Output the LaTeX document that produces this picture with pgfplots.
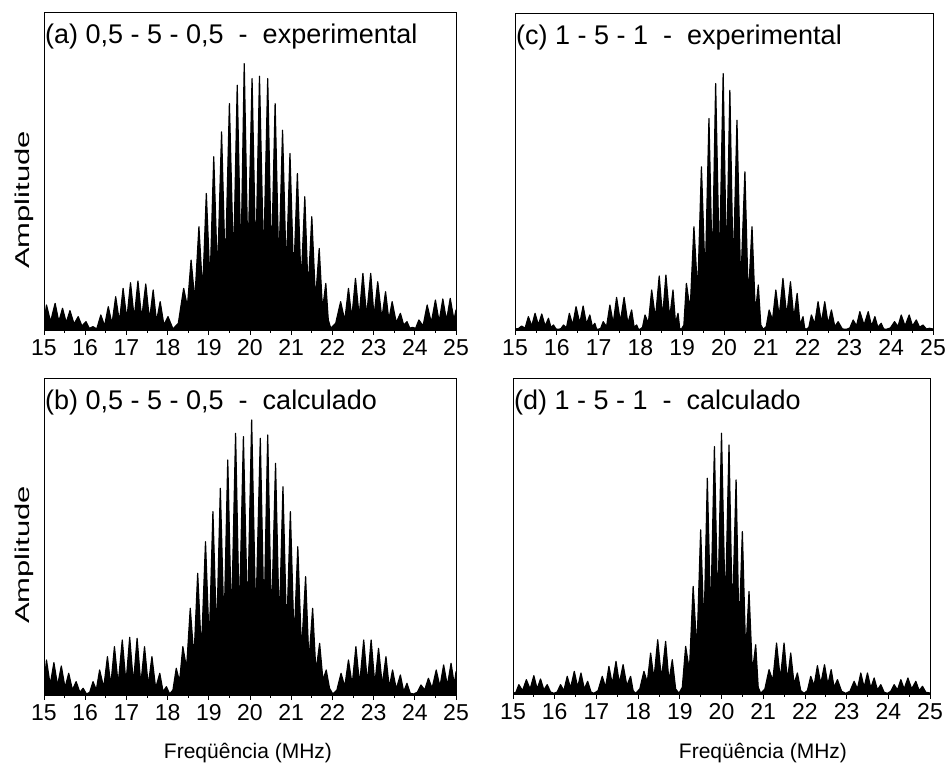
\documentclass[border=0pt]{standalone}
\usepackage{fontspec}
\setmainfont{Liberation Sans}
\usepackage{graphicx}
\usepackage{pgfplots}
\pgfplotsset{compat=1.18}

% (a) 0,5-5-0,5 experimental
\pgfplotstableread{
x y
15.00 20
15.06 75
15.16 25
15.27 80
15.36 25
15.45 65
15.54 22
15.63 58
15.73 18
15.83 40
15.92 12
16.02 25
16.10 5
16.19 10
16.28 3
16.38 45
16.47 12
16.56 70
16.65 18
16.74 100
16.83 25
16.92 125
17.01 32
17.10 142
17.19 35
17.28 147
17.37 35
17.47 138
17.56 30
17.65 120
17.73 25
17.82 85
17.91 15
18.01 40
18.13 3
18.26 20
18.39 125
18.48 70
18.57 210
18.66 90
18.76 310
18.85 115
18.94 410
19.03 140
19.12 520
19.21 160
19.31 595
19.40 175
19.50 680
19.60 190
19.69 735
19.78 198
19.86 800
19.95 200
20.05 755
20.14 200
20.23 762
20.33 200
20.43 755
20.52 195
20.61 680
20.70 185
20.79 600
20.88 170
20.97 530
21.06 155
21.15 470
21.24 135
21.33 400
21.41 115
21.50 340
21.59 90
21.68 245
21.76 60
21.84 140
21.90 30
21.96 5
22.08 20
22.20 85
22.30 28
22.39 125
22.47 35
22.56 155
22.65 40
22.74 170
22.83 42
22.93 170
23.01 40
23.10 145
23.20 35
23.29 115
23.37 30
23.45 85
23.55 22
23.65 50
23.73 15
23.81 25
23.88 5
23.94 8
24.02 5
24.10 30
24.20 12
24.30 75
24.40 22
24.50 90
24.59 25
24.68 93
24.77 28
24.86 95
24.95 30
25.00 60
}\dataA

% (b) 0,5-5-0,5 calculado
\pgfplotstableread{
x y
15.00 30
15.06 105
15.15 30
15.24 97
15.33 28
15.42 87
15.51 22
15.60 65
15.69 15
15.78 40
15.87 8
15.95 20
16.03 3
16.11 8
16.19 40
16.27 15
16.35 75
16.45 22
16.54 115
16.62 28
16.71 145
16.80 32
16.90 165
16.99 35
17.08 173
17.17 35
17.26 170
17.35 32
17.44 145
17.53 28
17.62 115
17.71 20
17.81 65
17.89 10
17.97 25
18.05 3
18.13 15
18.21 80
18.29 40
18.37 145
18.46 80
18.55 260
18.64 110
18.73 365
18.82 130
18.92 460
19.01 155
19.10 550
19.19 175
19.28 620
19.37 195
19.46 705
19.55 210
19.65 785
19.74 220
19.84 775
19.94 222
20.04 825
20.14 222
20.25 770
20.34 220
20.43 780
20.52 210
20.62 695
20.71 200
20.80 625
20.89 180
20.98 550
21.07 160
21.16 445
21.25 130
21.35 355
21.43 100
21.52 260
21.60 70
21.69 155
21.77 45
21.85 75
21.93 20
22.01 3
22.11 15
22.21 65
22.30 25
22.39 105
22.48 30
22.57 145
22.66 32
22.76 165
22.85 35
22.94 165
23.03 32
23.12 140
23.21 30
23.30 115
23.38 22
23.46 75
23.55 18
23.65 60
23.73 10
23.81 35
23.89 5
23.97 3
24.06 8
24.15 30
24.24 15
24.33 50
24.42 20
24.52 75
24.61 25
24.70 90
24.79 28
24.88 95
24.96 30
25.00 70
}\dataB

% (c) 1-5-1 experimental
\pgfplotstableread{
x y
15.00 3
15.08 4
15.16 12
15.24 5
15.32 40
15.40 12
15.48 50
15.56 15
15.64 48
15.72 12
15.80 35
15.86 8
15.92 15
15.98 3
16.04 2
16.10 4
16.16 15
16.23 6
16.30 50
16.38 15
16.46 70
16.55 20
16.63 72
16.71 18
16.79 45
16.85 10
16.91 20
16.95 3
16.99 2
17.05 5
17.11 25
17.19 10
17.27 75
17.35 20
17.43 98
17.52 25
17.61 98
17.70 20
17.79 60
17.85 8
17.91 15
17.95 3
17.99 2
18.05 8
18.11 45
18.19 20
18.27 120
18.36 35
18.45 162
18.53 38
18.61 165
18.70 35
18.78 120
18.84 20
18.90 50
18.94 5
18.98 2
19.04 15
19.10 140
19.19 60
19.28 310
19.37 110
19.46 490
19.55 150
19.64 635
19.72 170
19.80 740
19.89 180
19.98 770
20.06 180
20.14 720
20.22 165
20.31 630
20.40 130
20.50 475
20.58 90
20.67 310
20.75 50
20.82 135
20.88 15
20.94 2
21.01 10
21.08 60
21.16 30
21.24 120
21.32 40
21.41 155
21.50 42
21.59 145
21.67 35
21.75 110
21.82 15
21.89 40
21.93 5
21.97 2
22.03 8
22.09 45
22.17 18
22.25 85
22.33 22
22.41 85
22.49 18
22.57 60
22.65 10
22.73 25
22.83 3
22.93 2
23.01 6
23.09 30
23.17 12
23.25 55
23.35 15
23.45 55
23.53 12
23.61 40
23.68 8
23.76 20
23.82 3
23.88 2
23.98 6
24.08 25
24.16 10
24.24 45
24.33 12
24.43 45
24.51 12
24.60 30
24.68 8
24.76 15
24.84 3
24.92 5
25.00 3
}\dataC

% (d) 1-5-1 calculado
\pgfplotstableread{
x y
15.00 2
15.07 5
15.14 28
15.23 10
15.32 43
15.41 15
15.50 55
15.58 15
15.66 45
15.74 12
15.82 28
15.90 6
15.98 2
16.06 6
16.14 28
16.22 10
16.30 53
16.38 18
16.47 68
16.55 20
16.63 63
16.71 15
16.79 38
16.87 6
16.94 2
17.04 10
17.14 53
17.22 20
17.30 83
17.38 30
17.47 98
17.55 32
17.64 88
17.73 25
17.82 53
17.88 10
17.94 2
18.04 15
18.14 68
18.22 35
18.30 123
18.38 45
18.47 163
18.56 45
18.66 158
18.74 38
18.82 103
18.90 15
18.98 2
19.06 20
19.14 143
19.23 70
19.32 323
19.41 130
19.50 493
19.58 190
19.66 648
19.74 225
19.83 743
19.91 243
20.00 783
20.09 243
20.18 748
20.26 220
20.35 643
20.42 180
20.50 488
20.58 120
20.66 308
20.74 65
20.82 148
20.88 20
20.94 2
21.04 15
21.14 73
21.23 40
21.32 153
21.41 45
21.50 153
21.58 40
21.66 123
21.74 30
21.82 63
21.90 10
21.98 2
22.06 10
22.14 53
22.22 25
22.30 85
22.38 30
22.47 88
22.55 28
22.63 73
22.70 20
22.78 43
22.88 8
22.98 2
23.08 8
23.18 38
23.26 15
23.34 63
23.42 20
23.50 63
23.58 18
23.66 48
23.74 12
23.82 28
23.90 5
23.98 2
24.06 8
24.14 28
24.22 12
24.30 43
24.38 15
24.47 48
24.56 15
24.66 38
24.74 10
24.82 23
24.90 5
25.00 3
}\dataD

\pgfplotsset{
  spec/.style={
    scale only axis,
    anchor=south west,
    xmin=15, xmax=25, ymin=0,
    xtick={15,16,...,25},
    minor x tick num=1,
    xtick pos=left,
    tick align=outside,
    major tick length=5pt,
    minor tick length=3pt,
    ytick=\empty,
    axis line style={line width=0.8pt},
    every tick/.style={black, line width=0.8pt},
    xticklabel style={font=\fontsize{23}{23}\selectfont, yshift=-1pt},
    /pgf/number format/assume math mode=true,
  },
  comb/.style={fill=black, draw=black, line width=1.2pt, line join=round},
}
\tikzset{
  ttl/.style={anchor=north west, inner sep=0pt, xshift=1pt, yshift=-12pt,
    font=\fontsize{27}{27}\selectfont},
  lbl/.style={inner sep=0pt, font=\fontsize{21}{21}\selectfont},
}

\begin{document}
\begin{tikzpicture}
\path[use as bounding box] (0pt,0pt) rectangle (947pt,770pt);

\begin{axis}[spec, at={(44pt,440pt)}, width=412pt, height=318pt, ymax=955]
  \addplot[comb] table {\dataA} \closedcycle;
  \node[ttl] at (rel axis cs:0,1) {(a) 0,5 - 5 - 0,5~~-~~experimental};
\end{axis}

\begin{axis}[spec, at={(515pt,440pt)}, width=418pt, height=317pt, ymax=952]
  \addplot[comb] table {\dataC} \closedcycle;
  \node[ttl] at (rel axis cs:0,1) {(c) 1 - 5 - 1~~-~~experimental};
\end{axis}

\begin{axis}[spec, at={(44pt,75pt)}, width=412pt, height=317pt, ymax=951]
  \addplot[comb] table {\dataB} \closedcycle;
  \node[ttl] at (rel axis cs:0,1) {(b) 0,5 - 5 - 0,5~~-~~calculado};
\end{axis}

\begin{axis}[spec, at={(513pt,76pt)}, width=417pt, height=316pt, ymax=949]
  \addplot[comb] table {\dataD} \closedcycle;
  \node[ttl] at (rel axis cs:0,1) {(d) 1 - 5 - 1~~-~~calculado};
\end{axis}

\node[rotate=90, lbl, font=\fontsize{20}{20}\selectfont] at (24pt,570pt) {\scalebox{1.55}[1]{Amplitude}};
\node[rotate=90, lbl, font=\fontsize{20}{20}\selectfont] at (24pt,215pt) {\scalebox{1.55}[1]{Amplitude}};
\node[anchor=base, lbl] at (248pt,11pt) {Freqüência (MHz)};
\node[anchor=base, lbl] at (763pt,11pt) {Freqüência (MHz)};
\end{tikzpicture}
\end{document}
